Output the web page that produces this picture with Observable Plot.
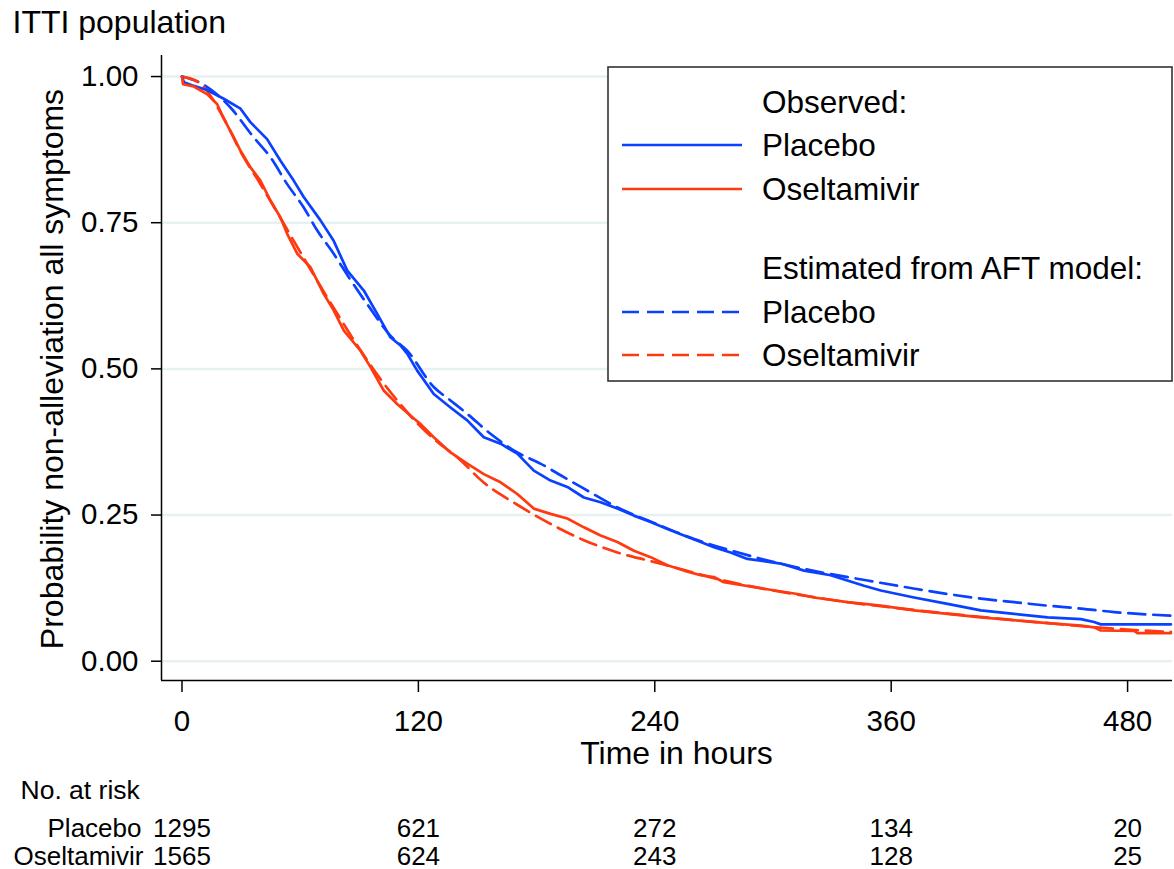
<!DOCTYPE html>
<html>
<head>
<meta charset="utf-8">
<script src="https://cdn.jsdelivr.net/npm/d3@7"></script>
<script src="https://cdn.jsdelivr.net/npm/@observablehq/plot@0.6"></script>
<style>
  html, body { margin: 0; padding: 0; background: #fff; }
  svg { overflow: visible; }
</style>
</head>
<body>
<div id="chart"></div>
<script>
// ---- Data ----
const title = "ITTI population";
const xLabel = "Time in hours";
const yLabel = "Probability non-alleviation all symptoms";
const xTicks = [0, 120, 240, 360, 480];
const yTicks = [0, 0.25, 0.5, 0.75, 1];

// Observed Kaplan-Meier, Placebo
const placeboObsT = [0, 1, 6, 12.7, 21.2, 29.7, 34.7, 43.2, 50, 56.7, 61.8, 70.3, 77, 83.9, 92.3, 99.1, 105.8, 110.9, 114.3, 119.4, 127.8, 136.3, 144.8, 153.2, 161.7, 170.2, 178.6, 187.1, 195.6, 204, 212.5, 221, 229.4, 237.9, 246.4, 254.8, 263.3, 270, 278.5, 287, 303.9, 315.8, 329.3, 346.2, 354.7, 371.6, 388.6, 405.5, 422.4, 439.4, 456.3, 463, 466.4, 502];
const placeboObsS = [1.0, 0.99, 0.984, 0.977, 0.962, 0.945, 0.922, 0.893, 0.856, 0.822, 0.794, 0.754, 0.719, 0.668, 0.634, 0.594, 0.554, 0.540, 0.526, 0.497, 0.457, 0.434, 0.412, 0.383, 0.372, 0.355, 0.326, 0.309, 0.298, 0.280, 0.272, 0.261, 0.249, 0.238, 0.226, 0.215, 0.204, 0.195, 0.186, 0.175, 0.167, 0.155, 0.147, 0.129, 0.121, 0.109, 0.098, 0.087, 0.081, 0.075, 0.072, 0.067, 0.063, 0.063];

// Observed Kaplan-Meier, Oseltamivir
const oselObsT = [0, 0.5, 6, 12.7, 17.8, 21.2, 26.3, 29.7, 34.7, 39.8, 44.9, 50, 53.4, 58.5, 65.2, 72, 77, 82.1, 90.6, 95.7, 102.4, 109.2, 117.7, 121, 127.8, 136.3, 144.8, 153.2, 161.7, 170.2, 178.6, 187.1, 195.6, 204, 212.5, 221, 229.4, 237.9, 246.4, 254.8, 263.3, 270, 275.1, 295.4, 312.4, 320.8, 337.8, 354.7, 371.6, 388.6, 405.5, 422.4, 439.4, 456.3, 463, 466.4, 483.3, 485, 502];
const oselObsS = [1.0, 0.987, 0.983, 0.970, 0.953, 0.928, 0.896, 0.873, 0.845, 0.822, 0.788, 0.759, 0.731, 0.697, 0.674, 0.628, 0.600, 0.566, 0.531, 0.503, 0.463, 0.440, 0.415, 0.406, 0.383, 0.357, 0.338, 0.320, 0.306, 0.286, 0.261, 0.252, 0.244, 0.229, 0.215, 0.204, 0.189, 0.178, 0.164, 0.155, 0.147, 0.144, 0.135, 0.124, 0.115, 0.109, 0.101, 0.095, 0.087, 0.081, 0.075, 0.070, 0.065, 0.061, 0.058, 0.0525, 0.052, 0.048, 0.048];

// Estimated from AFT model, Placebo
const placeboAftT = [0, 9.4, 24.6, 36.4, 44.9, 53.4, 61.8, 68.6, 77, 85, 95, 106, 114.3, 127.8, 136.3, 144.8, 156.6, 170.2, 182, 192.2, 205.7, 219.3, 240, 260, 280, 300, 320, 348, 372, 388.6, 405.5, 422.4, 439.4, 456.3, 473.2, 502];
const placeboAftS = [1.0, 0.989, 0.947, 0.896, 0.862, 0.816, 0.776, 0.737, 0.697, 0.655, 0.606, 0.556, 0.531, 0.469, 0.446, 0.423, 0.389, 0.357, 0.338, 0.318, 0.292, 0.266, 0.236, 0.209, 0.188, 0.170, 0.155, 0.138, 0.124, 0.115, 0.107, 0.101, 0.095, 0.090, 0.084, 0.078];

// Estimated from AFT model, Oseltamivir
const oselAftT = [0, 8.6, 21, 30, 40, 50, 60, 70, 80, 90, 100, 110, 120, 130, 139.7, 153, 170, 187, 204, 221, 238, 255, 270, 295, 320, 340, 360, 390, 420, 440, 460, 480, 502];
const oselAftS = [1.0, 0.99, 0.93, 0.87, 0.815, 0.758, 0.700, 0.643, 0.588, 0.535, 0.486, 0.443, 0.405, 0.374, 0.349, 0.306, 0.268, 0.235, 0.207, 0.186, 0.171, 0.156, 0.142, 0.124, 0.110, 0.100, 0.092, 0.081, 0.071, 0.065, 0.059, 0.054, 0.050];

// Number at risk table
const riskTimes = [0, 120, 240, 360, 480];
const riskPlacebo = [1295, 621, 272, 134, 20];
const riskOsel = [1565, 624, 243, 128, 25];

// Legend labels
const legendObsHeader = "Observed:";
const legendAftHeader = "Estimated from AFT model:";
const groupNames = ["Placebo", "Oseltamivir"];
const riskHeader = "No. at risk";

// ---- Styles ----
const BLUE = "#0a40ff";
const RED = "#ff3a10";
const FONT = "'Liberation Sans', Arial, Helvetica, sans-serif";
const DASH = "17,8";
const LW = 2.7;
const FS_TITLE = 32, FS_TICK = 29.5, FS_LEG = 31.5, FS_TAB = 26;

const toRows = (ts, ss) => ts.map((t, i) => ({t, s: ss[i]}));
const placeboObs = toRows(placeboObsT, placeboObsS);
const oselObs = toRows(oselObsT, oselObsS);
const placeboAft = toRows(placeboAftT, placeboAftS);
const oselAft = toRows(oselAftT, oselAftS);
const riskRows = riskTimes.map((t, i) => ({t, p: String(riskPlacebo[i]), o: String(riskOsel[i])}));

const W = 1174, H = 869;
const mL = 161, mT = 55, mR = 2, mB = H - 680;
const ROW1 = 148, ROW2 = 176;

const plot = Plot.plot({
  width: W,
  height: H,
  marginLeft: mL,
  marginTop: mT,
  marginRight: mR,
  marginBottom: mB,
  style: {fontFamily: FONT, fontSize: "28px", color: "#000", background: "#fff"},
  x: {domain: [-10.4, 502.8], axis: null},
  y: {domain: [-0.033, 1.036], axis: null},
  marks: [
    Plot.gridY(yTicks, {stroke: "#e8f1f1", strokeOpacity: 1, strokeWidth: 2.5}),
    Plot.ruleX([-10.4], {stroke: "#000", strokeWidth: 1.5}),
    Plot.ruleY([-0.033], {stroke: "#000", strokeWidth: 1.5}),
    Plot.axisY(yTicks, {tickFormat: d3.format(".2f"), tickSize: 10, tickPadding: 13, fontSize: FS_TICK, stroke: "#000", strokeWidth: 1.5, label: null}),
    Plot.axisX(xTicks, {tickFormat: d => String(d), tickSize: 12, tickPadding: 18, fontSize: FS_TICK, stroke: "#000", strokeWidth: 1.5, label: null}),
    Plot.line(placeboAft, {x: "t", y: "s", stroke: BLUE, strokeWidth: LW, strokeDasharray: DASH, curve: "monotone-x"}),
    Plot.line(oselAft, {x: "t", y: "s", stroke: RED, strokeWidth: LW, strokeDasharray: DASH, curve: "monotone-x"}),
    Plot.line(placeboObs, {x: "t", y: "s", stroke: BLUE, strokeWidth: LW}),
    Plot.line(oselObs, {x: "t", y: "s", stroke: RED, strokeWidth: LW}),
    // titles
    Plot.text([title], {text: d => d, frameAnchor: "top-left", dx: -149, dy: -33, textAnchor: "start", lineAnchor: "middle", fontSize: FS_TITLE}),
    Plot.text([yLabel], {text: d => d, frameAnchor: "left", dx: -109, dy: 1, rotate: -90, textAnchor: "middle", lineAnchor: "middle", fontSize: FS_TITLE}),
    Plot.text([xLabel], {text: d => d, frameAnchor: "bottom", dx: 9.5, dy: 73, textAnchor: "middle", lineAnchor: "middle", fontSize: FS_TITLE}),
    // risk table
    Plot.text([riskHeader], {text: d => d, frameAnchor: "bottom-left", dx: -141, dy: 110, textAnchor: "start", lineAnchor: "middle", fontSize: 26.5}),
    Plot.text([groupNames[0]], {text: d => d, frameAnchor: "bottom-left", dx: -20, dy: ROW1, textAnchor: "end", lineAnchor: "middle", fontSize: FS_TAB}),
    Plot.text([groupNames[1]], {text: d => d, frameAnchor: "bottom-left", dx: -18, dy: ROW2, textAnchor: "end", lineAnchor: "middle", fontSize: FS_TAB}),
    Plot.text(riskRows, {x: "t", text: "p", frameAnchor: "bottom", dy: ROW1, textAnchor: "middle", lineAnchor: "middle", fontSize: FS_TAB}),
    Plot.text(riskRows, {x: "t", text: "o", frameAnchor: "bottom", dy: ROW2, textAnchor: "middle", lineAnchor: "middle", fontSize: FS_TAB})
  ]
});

document.getElementById("chart").appendChild(plot);

// ---- Legend box (drawn on the same SVG) ----
const svg = d3.select(plot);
const lg = svg.append("g").attr("font-family", FONT).attr("font-size", FS_LEG).attr("text-anchor", "start");
lg.append("rect").attr("x", 608).attr("y", 67).attr("width", 564).attr("height", 314)
  .attr("fill", "#fff").attr("stroke", "#333").attr("stroke-width", 1.6);
const items = [
  {label: legendObsHeader, y: 102},
  {label: groupNames[0], y: 145, color: BLUE, dash: null},
  {label: groupNames[1], y: 189, color: RED, dash: null},
  {label: legendAftHeader, y: 268},
  {label: groupNames[0], y: 312, color: BLUE, dash: DASH},
  {label: groupNames[1], y: 355, color: RED, dash: DASH}
];
items.forEach(it => {
  if (it.color) {
    lg.append("line").attr("x1", 622).attr("x2", 742).attr("y1", it.y).attr("y2", it.y)
      .attr("stroke", it.color).attr("stroke-width", LW)
      .attr("stroke-dasharray", it.dash);
  }
  lg.append("text").attr("x", 762).attr("y", it.y).attr("dy", "0.36em")
    .attr("text-anchor", "start").attr("fill", "#000").text(it.label);
});
</script>
</body>
</html>
